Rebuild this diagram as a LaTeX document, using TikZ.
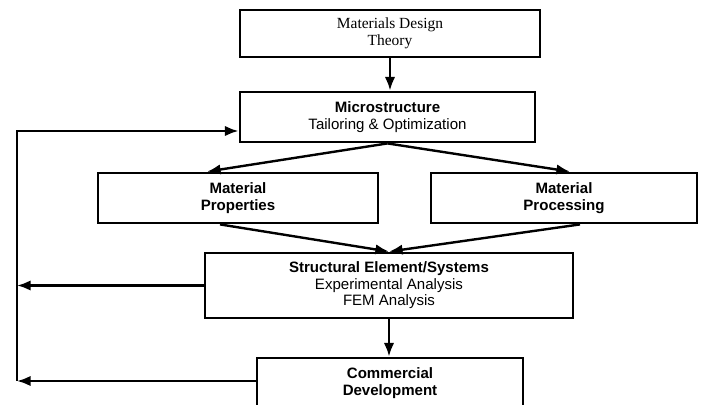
\documentclass[tikz,border=0pt]{standalone}
\usepackage{fontspec}
\setmainfont{Liberation Sans}
\newfontfamily\timesfont{Liberation Serif}
\usepackage{tikz}
\usetikzlibrary{arrows.meta}
\usetikzlibrary{calc}

\begin{document}
\begin{tikzpicture}[x=0.025cm, y=-0.025cm,
  every node/.style = {align=center, font=\fontsize{10.7}{11.8}\selectfont},
  box/.style = {draw, line width=2pt, inner sep=0pt},
  link/.style = {draw, line width=1.7pt, -{Latex[length=3.4mm,width=2.6mm]}}]
  \clip (0,0) rectangle (703,405);
  \node [box, minimum width=7.5cm, minimum height=1.175cm,
    font=\timesfont\fontsize{11}{12.5}\selectfont] (design) at (390,33.5) {Materials Design\\Theory};
  \node [box, minimum width=7.375cm, minimum height=1.25cm] (micro) at (387.5,117)
    {\textbf{Microstructure}\\Tailoring \& Optimization};
  \node [box, minimum width=7cm, minimum height=1.25cm] (props) at (238,198)
    {\textbf{Material}\\\textbf{Properties}};
  \node [box, minimum width=6.65cm, minimum height=1.25cm] (proc) at (564,198)
    {\textbf{Material}\\\textbf{Processing}};
  \node [box, minimum width=9.2cm, minimum height=1.625cm] (struct) at (389,285.5)
    {\textbf{Structural Element/Systems}\\Experimental Analysis\\FEM Analysis};
  \node [box, minimum width=6.65cm, minimum height=1.25cm] (comm) at (390,383)
    {\textbf{Commercial}\\\textbf{Development}};
  \coordinate (fbtop) at (17,131);
  \coordinate (fbbot) at (17,381);
  \path [link] (design.south) -- (design.south |- micro.north);
  \path [link] (micro.south) -- ($(props.north)+(-31,0)$);
  \path [link] (micro.south) -- ($(proc.north)+(6,0)$);
  \path [link] ($(props.south)+(-18,0)$) -- (struct.north);
  \path [link] ($(proc.south)+(16,0)$) -- (struct.north);
  \path [link] (struct.south) -- (struct.south |- comm.north);
  \path [link] (fbbot) -- (fbtop) -- (fbtop -| micro.west);
  \path [link] (struct.west) -- (struct.west -| fbtop);
  \path [link] (fbbot -| comm.west) -- (fbbot);
\end{tikzpicture}
\end{document}
